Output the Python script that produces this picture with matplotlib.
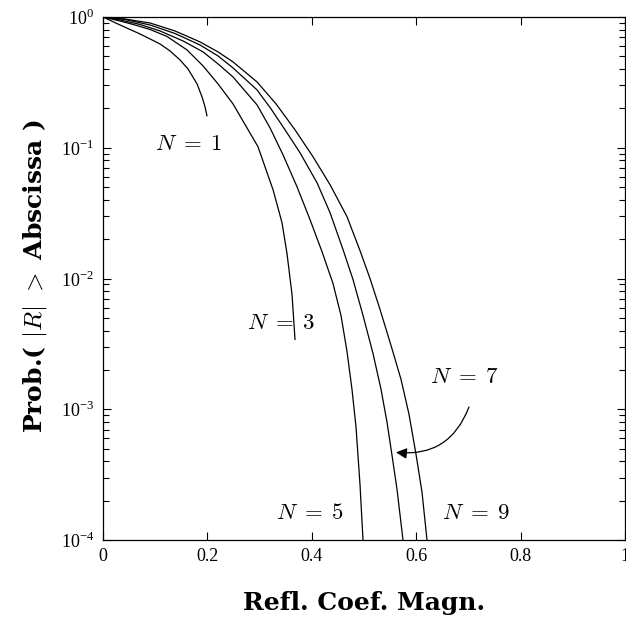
import numpy as np
import matplotlib
matplotlib.use("Agg")
import matplotlib.pyplot as plt
from matplotlib.patches import FancyArrowPatch
from matplotlib.ticker import FixedLocator, LogLocator, NullFormatter

plt.rcParams['font.family'] = ['Liberation Serif', 'DejaVu Serif']
plt.rcParams['mathtext.fontset'] = 'cm'

# Curves: x = reflection coefficient magnitude, y = probability
n1_x = [0.0, 0.0326, 0.0709, 0.1092, 0.1284, 0.1475, 0.1628, 0.1801, 0.1897, 0.1954, 0.1992]
n1_y = [1.0, 0.869, 0.742, 0.622, 0.550, 0.4696, 0.401, 0.308, 0.245, 0.206, 0.1755]

n3_x = [0.0, 0.0326, 0.0613, 0.0900, 0.1226, 0.1609, 0.1916, 0.2203, 0.2490, 0.2969,
        0.3257, 0.3429, 0.3525, 0.3621, 0.3678]
n3_y = [1.0, 0.932, 0.869, 0.803, 0.710, 0.560, 0.4227, 0.308, 0.2167, 0.1018,
        0.0478, 0.02676, 0.01551, 0.00755, 0.003422]

n5_x = [0.0, 0.0326, 0.0709, 0.1092, 0.1533, 0.1916, 0.2203, 0.2490, 0.2950, 0.3199,
        0.3448, 0.3716, 0.3966, 0.4195, 0.4406, 0.4559, 0.4674, 0.4770, 0.4847,
        0.4923, 0.4981]
n5_y = [1.0, 0.949, 0.877, 0.782, 0.656, 0.541, 0.438, 0.348, 0.2130, 0.1421,
        0.0884, 0.0504, 0.02820, 0.01607, 0.00916, 0.00522, 0.002772, 0.001421, 0.000729,
        0.0002677, 1.0e-4]

n7_x = [0.0, 0.0421, 0.0900, 0.1379, 0.1858, 0.2203, 0.2490, 0.2950, 0.3218, 0.3487,
        0.3774, 0.4100, 0.4349, 0.4598, 0.4789, 0.4981, 0.5172, 0.5326, 0.5441,
        0.5536, 0.5632, 0.5747]
n7_y = [1.0, 0.957, 0.869, 0.748, 0.611, 0.504, 0.408, 0.2772, 0.1985, 0.1372,
        0.0916, 0.0540, 0.0319, 0.01665, 0.00983, 0.00522, 0.002676, 0.001421, 0.000796,
        0.000446, 0.000245, 1.0e-4]

n9_x = [0.0, 0.0421, 0.0900, 0.1379, 0.1858, 0.2203, 0.2490, 0.2950, 0.3314, 0.3678,
        0.4023, 0.4349, 0.4674, 0.4923, 0.5115, 0.5307, 0.5517, 0.5709, 0.5862,
        0.5996, 0.6111, 0.6207]
n9_y = [1.0, 0.965, 0.900, 0.782, 0.645, 0.541, 0.4535, 0.319, 0.2167, 0.1372,
        0.0854, 0.0522, 0.02974, 0.01636, 0.0100, 0.00580, 0.003080, 0.001694, 0.000916,
        0.000453, 0.0002325, 1.0e-4]

labels = ["$N\\;=\\;1$", "$N\\;=\\;3$", "$N\\;=\\;5$", "$N\\;=\\;7$", "$N\\;=\\;9$"]
label_x = [0.163, 0.341, 0.397, 0.692, 0.715]
label_y = [0.105, 0.0045, 1.6e-4, 1.75e-3, 1.6e-4]

x_ticks = [0, 0.2, 0.4, 0.6, 0.8, 1.0]
x_ticklabels = ["0", "0.2", "0.4", "0.6", "0.8", "1"]
y_ticks = [1e-4, 1e-3, 1e-2, 1e-1, 1e0]
y_ticklabels = ["10$^{\\mathregular{-4}}$", "10$^{\\mathregular{-3}}$",
                "10$^{\\mathregular{-2}}$", "10$^{\\mathregular{-1}}$",
                "10$^{\\mathregular{0}}$"]

fig = plt.figure(figsize=(6.26, 6.26), dpi=100)
ax = fig.add_axes([103 / 626, 1 - 540 / 626, (625 - 103) / 626, (540 - 17) / 626])

for xs, ys in [(n1_x, n1_y), (n3_x, n3_y), (n5_x, n5_y), (n7_x, n7_y), (n9_x, n9_y)]:
    ax.plot(xs, ys, color='black', lw=0.9)

ax.set_yscale('log')
ax.set_xlim(0, 1)
ax.set_ylim(1e-4, 1)

ax.xaxis.set_major_locator(FixedLocator(x_ticks))
ax.set_xticklabels(x_ticklabels)
ax.yaxis.set_major_locator(FixedLocator(y_ticks))
ax.set_yticklabels(y_ticklabels)
ax.yaxis.set_minor_locator(LogLocator(base=10, subs=np.arange(2, 10)))
ax.yaxis.set_minor_formatter(NullFormatter())

ax.tick_params(which='both', direction='in', top=True, right=True, labelsize=13,
               width=0.8, colors='black')
ax.tick_params(which='major', length=6, pad=6)
ax.tick_params(which='minor', length=4)
for s in ax.spines.values():
    s.set_linewidth(0.9)

for t, lx, ly in zip(labels, label_x, label_y):
    ax.text(lx, ly, t, fontsize=16.5, ha='center', va='center')

arrow = FancyArrowPatch((0.703, 1.09e-3), (0.556, 4.7e-4),
                        connectionstyle="arc3,rad=-0.4", arrowstyle='-|>',
                        mutation_scale=16, color='black', lw=0.9)
ax.add_patch(arrow)

fig.text(364 / 626, 1 - 603 / 626, "Refl. Coef. Magn.", fontsize=18,
         family='DejaVu Serif', fontweight='bold', ha='center', va='center')
fig.text(35 / 626, 1 - 276 / 626, "Prob.( $|R|$ $>$ Abscissa )", fontsize=18,
         family='DejaVu Serif', fontweight='bold', ha='center', va='center',
         rotation=90)

fig.savefig("out.png", dpi=100)
